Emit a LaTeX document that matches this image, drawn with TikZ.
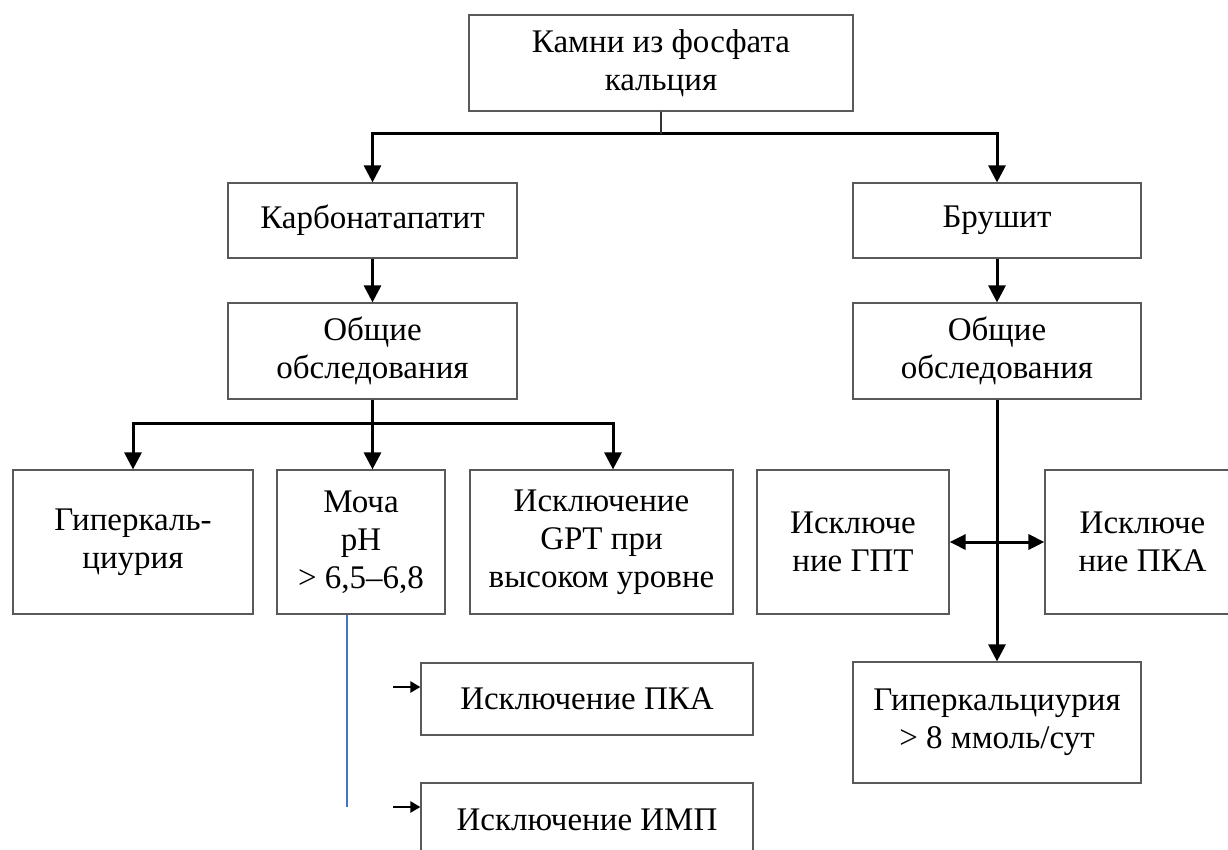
\documentclass[tikz,border=0pt]{standalone}
\usepackage{fontspec}
\setmainfont{Liberation Serif}
\usepackage{tikz}
\usetikzlibrary{arrows.meta}

\begin{document}
\begin{tikzpicture}[x=1pt,y=-1pt,
    box/.style={draw=black!65, line width=1.2pt, inner sep=0pt, align=center,
                font=\fontsize{33}{38}\selectfont},
    conn/.style={line width=3pt, -{Triangle[width=17pt,length=17pt]}},
    both/.style={line width=3pt, {Triangle[width=15pt,length=16pt]}-{Triangle[width=15pt,length=16pt]}},
    tiny/.style={line width=2.6pt, -{Triangle[width=11pt,length=10pt]}},
    stem/.style={line width=1.6pt, black!80},
    blueline/.style={line width=1.2pt, color={rgb,255:red,68;green,114;blue,196}}]
   \useasboundingbox (0,0) rectangle (1228,850);

   \draw (661,63) node[box, minimum width=384, minimum height=96] (kamni) {Камни из фосфата\\кальция};
     \draw (372.5,220.5) node[box, minimum width=289, minimum height=75] (karb) {Карбонатапатит};
     \draw (997,220.5) node[box, minimum width=288, minimum height=75] (brush) {Брушит};
     \draw (372.5,351) node[box, minimum width=289, minimum height=96] (obsL) {Общие\\обследования};
     \draw (997,351) node[box, minimum width=288, minimum height=96] (obsR) {Общие\\обследования};
      \draw (133,542) node[box, minimum width=240, minimum height=144] (giper) {Гиперкаль-\\циурия};
      \draw (361,542) node[box, minimum width=168, minimum height=144] (mocha) {Моча\\pH\\> 6,5–6,8};
      \draw (601.5,542) node[box, minimum width=263, minimum height=144] (gpt) {Исключение\\GPT при\\высоком уровне};
      \draw (853,542) node[box, minimum width=192, minimum height=144] (gptR) {Исключе\\ние ГПТ};
      \draw (1142.5,542) node[box, minimum width=195, minimum height=144] (pkaR) {Исключе\\ние ПКА};
      \draw (997,722.5) node[box, minimum width=288, minimum height=121] (hypR) {Гиперкальциурия\\> 8 ммоль/сут};
      \draw (587,699) node[box, minimum width=332, minimum height=72] (pkaL) {Исключение ПКА};
      \draw (587,820) node[box, minimum width=332, minimum height=74] (imp) {Исключение ИМП};

   \coordinate (fork) at (661,134);
   \coordinate (forkL) at (372.5,423);
   \coordinate (vtop) at (347,615);
   \coordinate (vbot) at (347,807);
   \coordinate (tipA) at (393,687);
   \coordinate (tipB) at (393,807);

     \draw[conn] (fork) -| (karb.north);
     \draw[conn] (fork) -| (brush.north);
     \draw[stem] (kamni.south) -- (fork);
     \draw[conn] (karb) -- (obsL);
     \draw[conn] (brush) -- (obsR);
     \draw[conn] (forkL) -| (giper.north);
     \draw[conn] (forkL) -| ([xshift=11.5pt]gpt.north);
     \draw[conn] (obsL.south) -- (obsL.south |- mocha.north);
     \draw[conn] (obsR) -- (hypR);
     \draw[both] (gptR.east) -- (pkaR.west);
     \draw[blueline] (vtop) -- (vbot);
     \draw[tiny] (tipA) -- (tipA -| pkaL.west);
     \draw[tiny] (tipB) -- (tipB -| imp.west);

\end{tikzpicture}
\end{document}
